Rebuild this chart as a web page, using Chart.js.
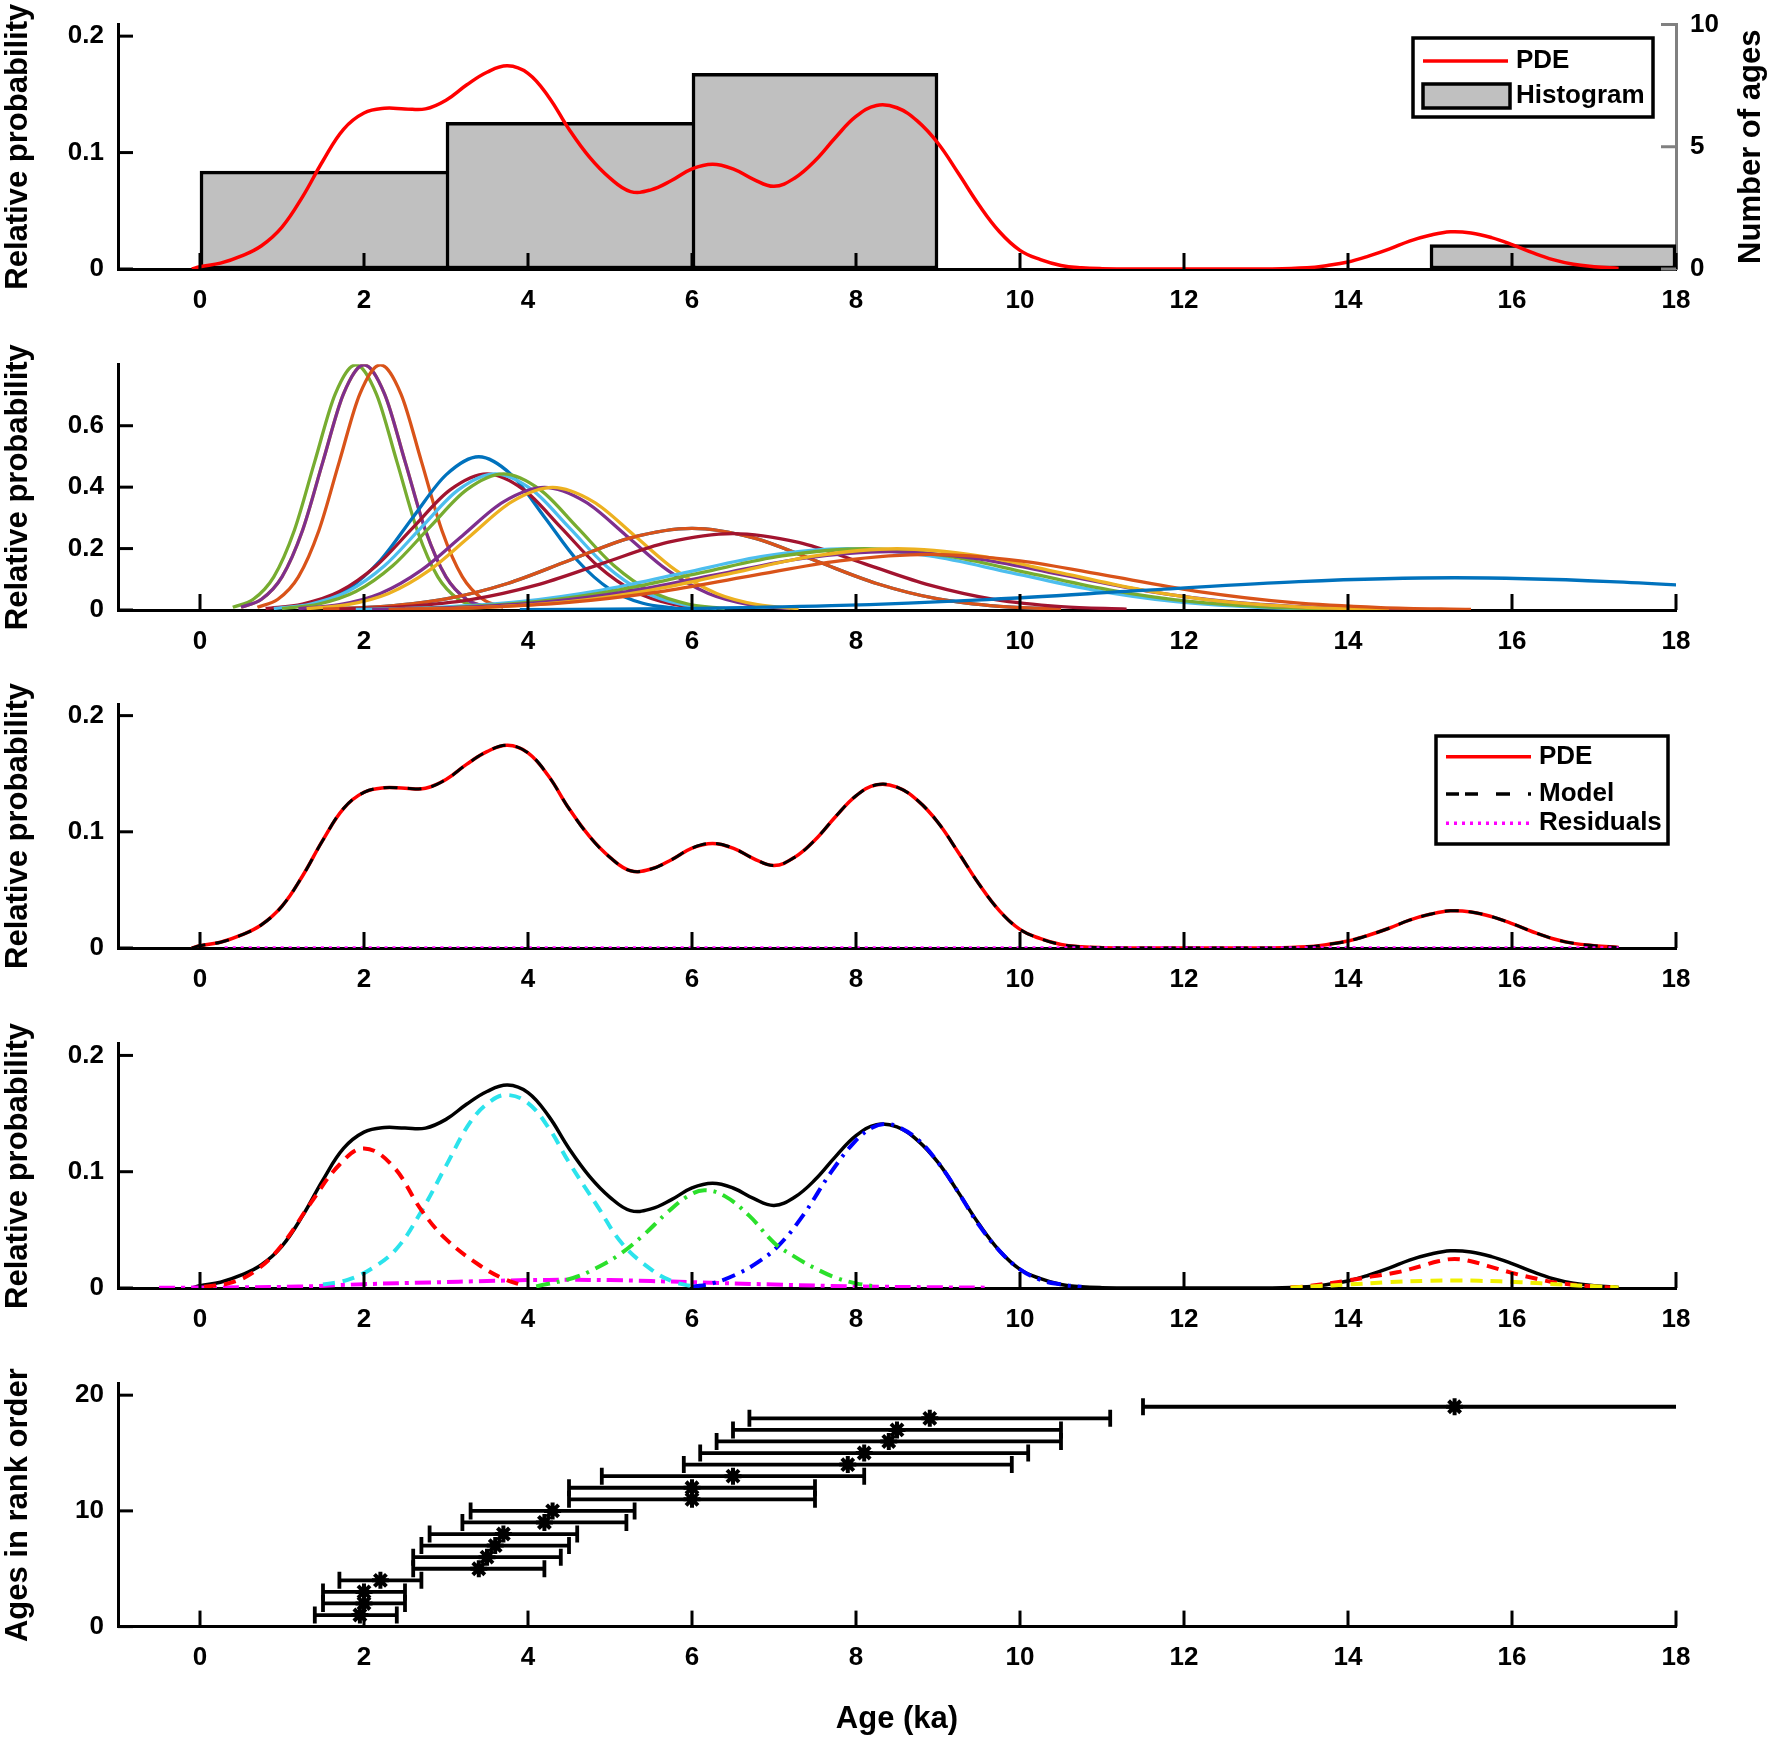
<!DOCTYPE html>
<html>
<head>
<meta charset="utf-8">
<title>Age distribution</title>
<script src="https://cdn.jsdelivr.net/npm/chart.js@4.4.1/dist/chart.umd.min.js"></script>
<style>
html, body { margin: 0; padding: 0; background: #fff; }
body { position: relative; width: 1770px; height: 1744px; overflow: hidden; }
canvas { position: absolute; left: 0; }
</style>
</head>
<body>
<canvas id="histChart"></canvas>
<canvas id="indChart"></canvas>
<canvas id="modelChart"></canvas>
<canvas id="compChart"></canvas>
<canvas id="rankChart"></canvas>
<script>
// tick labels
var xTicks = [0, 2, 4, 6, 8, 10, 12, 14, 16, 18];
var probTicks = [0, 0.1, 0.2];
var indTicks = [0, 0.2, 0.4, 0.6];
var countTicks = [0, 5, 10];
var rankTicks = [0, 10, 20];

// histogram (3 ka bins)
var binCenters = [1.5, 4.5, 7.5, 10.5, 13.5, 16.5];
var binCounts = [4, 6, 8, 0, 0, 1];

// probability density estimate (also the model curve)
var pdeX = [-0.1, 0, 0.25, 0.5, 0.75, 1, 1.25, 1.5, 1.75, 2,
  2.25, 2.5, 2.75, 3, 3.25, 3.5, 3.75, 4, 4.25, 4.5, 4.75, 5, 5.25, 5.5, 5.75, 6,
  6.25, 6.5, 6.75, 7, 7.25, 7.5, 7.75, 8, 8.25, 8.5, 8.75, 9, 9.25, 9.5, 9.75, 10,
  10.25, 10.5, 10.75, 11, 11.5, 12, 12.5, 13, 13.5,
  13.75, 14, 14.25, 14.5, 14.75, 15, 15.25, 15.5, 15.75, 16, 16.25, 16.5, 16.75, 17, 17.3];
var pdeY = [0, 0.002, 0.005, 0.011, 0.02, 0.036, 0.062, 0.093, 0.12, 0.134,
  0.138, 0.1375, 0.1375, 0.145, 0.158, 0.169, 0.1745, 0.168, 0.148, 0.12, 0.096, 0.078, 0.0665, 0.068, 0.076, 0.086,
  0.09, 0.086, 0.077, 0.071, 0.078, 0.093, 0.113, 0.131, 0.1405, 0.1385, 0.127, 0.108, 0.082, 0.055, 0.032, 0.016,
  0.008, 0.003, 0.001, 0.0003, 0, 0, 0, 0, 0.001,
  0.003, 0.006, 0.011, 0.017, 0.024, 0.029, 0.032, 0.031, 0.027, 0.021, 0.014, 0.008, 0.004, 0.002, 0.0005];
var residX = [0.3, 4, 8, 12, 17.3];
var residY = [0, 0, 0, 0, 0];

// individual age curves: heights for each uncertainty, positions per age
var indY05 = [0.009, 0.035, 0.108, 0.259, 0.484, 0.704, 0.798, 0.704, 0.484, 0.259, 0.108, 0.035, 0.009];
var indY08 = [0.0055, 0.022, 0.0675, 0.162, 0.303, 0.44, 0.499, 0.44, 0.303, 0.162, 0.0675, 0.022, 0.0055];
var indY09 = [0.0049, 0.0195, 0.06, 0.144, 0.269, 0.391, 0.443, 0.391, 0.269, 0.144, 0.06, 0.0195, 0.0049];
var indY10 = [0.0044, 0.0175, 0.054, 0.13, 0.242, 0.352, 0.399, 0.352, 0.242, 0.13, 0.054, 0.0175, 0.0044];
var indY15 = [0.003, 0.0117, 0.036, 0.0864, 0.161, 0.235, 0.266, 0.235, 0.161, 0.0864, 0.036, 0.0117, 0.003];
var indY16 = [0.0028, 0.011, 0.0337, 0.081, 0.151, 0.22, 0.249, 0.22, 0.151, 0.081, 0.0337, 0.011, 0.0028];
var indY20 = [0.0022, 0.0088, 0.027, 0.0648, 0.121, 0.176, 0.1995, 0.176, 0.121, 0.0648, 0.027, 0.0088, 0.0022];
var indY21 = [0.0021, 0.0083, 0.0257, 0.0617, 0.115, 0.168, 0.19, 0.168, 0.115, 0.0617, 0.0257, 0.0083, 0.0021];
var indY22 = [0.002, 0.008, 0.0245, 0.0588, 0.11, 0.16, 0.181, 0.16, 0.11, 0.0588, 0.0245, 0.008, 0.002];
var indY38 = [0.0012, 0.0046, 0.0142, 0.0341, 0.0637, 0.0927, 0.105, 0.0927, 0.0637, 0.0341];

var ind01X = [0.4, 0.65, 0.9, 1.15, 1.4, 1.65, 1.9, 2.15, 2.4, 2.65, 2.9, 3.15, 3.4];
var ind02X = [0.5, 0.75, 1.0, 1.25, 1.5, 1.75, 2.0, 2.25, 2.5, 2.75, 3.0, 3.25, 3.5];
var ind03X = [0.5, 0.75, 1.0, 1.25, 1.5, 1.75, 2.0, 2.25, 2.5, 2.75, 3.0, 3.25, 3.5];
var ind04X = [0.7, 0.95, 1.2, 1.45, 1.7, 1.95, 2.2, 2.45, 2.7, 2.95, 3.2, 3.45, 3.7];
var ind05X = [1.0, 1.4, 1.8, 2.2, 2.6, 3.0, 3.4, 3.8, 4.2, 4.6, 5.0, 5.4, 5.8];
var ind06X = [0.8, 1.25, 1.7, 2.15, 2.6, 3.05, 3.5, 3.95, 4.4, 4.85, 5.3, 5.75, 6.2];
var ind07X = [0.9, 1.35, 1.8, 2.25, 2.7, 3.15, 3.6, 4.05, 4.5, 4.95, 5.4, 5.85, 6.3];
var ind08X = [1.0, 1.45, 1.9, 2.35, 2.8, 3.25, 3.7, 4.15, 4.6, 5.05, 5.5, 5.95, 6.4];
var ind09X = [1.2, 1.7, 2.2, 2.7, 3.2, 3.7, 4.2, 4.7, 5.2, 5.7, 6.2, 6.7, 7.2];
var ind10X = [1.3, 1.8, 2.3, 2.8, 3.3, 3.8, 4.3, 4.8, 5.3, 5.8, 6.3, 6.8, 7.3];
var ind11X = [1.5, 2.25, 3.0, 3.75, 4.5, 5.25, 6.0, 6.75, 7.5, 8.25, 9.0, 9.75, 10.5];
var ind12X = [1.5, 2.25, 3.0, 3.75, 4.5, 5.25, 6.0, 6.75, 7.5, 8.25, 9.0, 9.75, 10.5];
var ind13X = [1.7, 2.5, 3.3, 4.1, 4.9, 5.7, 6.5, 7.3, 8.1, 8.9, 9.7, 10.5, 11.3];
var ind14X = [1.9, 2.9, 3.9, 4.9, 5.9, 6.9, 7.9, 8.9, 9.9, 10.9, 11.9, 12.9, 13.9];
var ind15X = [2.1, 3.1, 4.1, 5.1, 6.1, 7.1, 8.1, 9.1, 10.1, 11.1, 12.1, 13.1, 14.1];
var ind16X = [2.1, 3.15, 4.2, 5.25, 6.3, 7.35, 8.4, 9.45, 10.5, 11.55, 12.6, 13.65, 14.7];
var ind17X = [2.5, 3.5, 4.5, 5.5, 6.5, 7.5, 8.5, 9.5, 10.5, 11.5, 12.5, 13.5, 14.5];
var ind18X = [2.3, 3.4, 4.5, 5.6, 6.7, 7.8, 8.9, 10.0, 11.1, 12.2, 13.3, 14.4, 15.5];
var ind19X = [3.9, 5.8, 7.7, 9.6, 11.5, 13.4, 15.3, 17.2, 19.1, 21.0];

// mixture components
var compR1X = [0.05, 0.4, 0.7, 1.0, 1.35, 1.7, 2.0, 2.35, 2.7, 3.0, 3.4, 3.7, 3.95];
var compR1Y = [0.001, 0.005, 0.016, 0.037, 0.073, 0.106, 0.12, 0.105, 0.067, 0.042, 0.02, 0.008, 0.002];
var compCyX = [1.5, 1.8, 2.1, 2.4, 2.7, 3.0, 3.3, 3.55, 3.75, 4.0, 4.25, 4.5, 4.85, 5.15, 5.5, 5.75, 6.0];
var compCyY = [0.003, 0.007, 0.017, 0.034, 0.066, 0.105, 0.143, 0.161, 0.166, 0.159, 0.138, 0.108, 0.07, 0.038, 0.016, 0.006, 0.0015];
var compGrX = [4.1, 4.55, 4.8, 5.1, 5.4, 5.7, 5.95, 6.15, 6.4, 6.7, 7.0, 7.25, 7.5, 7.75, 8.0, 8.25];
var compGrY = [0.0014, 0.0086, 0.016, 0.028, 0.045, 0.065, 0.079, 0.084, 0.079, 0.062, 0.039, 0.027, 0.017, 0.009, 0.004, 0.0012];
var compBlX = [6.0, 6.25, 6.55, 6.8, 7.05, 7.35, 7.7, 8.0, 8.2, 8.35, 8.5, 8.75, 9.0, 9.25, 9.5, 9.75, 10.0, 10.25, 10.5, 10.75];
var compBlY = [0.001, 0.004, 0.012, 0.022, 0.036, 0.062, 0.1, 0.127, 0.138, 0.141, 0.139, 0.128, 0.108, 0.082, 0.054, 0.032, 0.016, 0.007, 0.003, 0.001];
var compMgX = [-0.5, 0.5, 1.2, 2.0, 2.8, 3.5, 4.0, 4.5, 5.0, 5.5, 6.0, 7.0, 8.0, 9.0, 9.6];
var compMgY = [0.0002, 0.0006, 0.0012, 0.0033, 0.0048, 0.006, 0.0068, 0.007, 0.0068, 0.006, 0.005, 0.003, 0.0014, 0.0006, 0.0003];
var compR2X = [13.3, 13.5, 14.0, 14.3, 14.6, 14.9, 15.1, 15.3, 15.5, 15.7, 16.0, 16.3, 16.55, 16.95, 17.25];
var compR2Y = [0.0006, 0.0015, 0.0065, 0.01, 0.0135, 0.019, 0.023, 0.025, 0.023, 0.019, 0.013, 0.008, 0.0045, 0.0015, 0.0003];
var compYlX = [13.3, 13.6, 14.0, 14.5, 15.0, 15.3, 15.6, 16.1, 16.6, 17.0, 17.3];
var compYlY = [0.0004, 0.0015, 0.003, 0.005, 0.0062, 0.0065, 0.0062, 0.005, 0.003, 0.0015, 0.0004];

// ages in rank order with error bars
var rankRow = [1, 2, 3, 4, 5, 6, 7, 8, 9, 10, 11, 12, 13, 14, 15, 16, 17, 18, 19];
var rankAge = [1.95, 2.0, 2.0, 2.2, 3.4, 3.5, 3.6, 3.7, 4.2, 4.3, 6.0, 6.0, 6.5, 7.9, 8.1, 8.4, 8.5, 8.9, 15.3];
var rankLo = [1.4, 1.5, 1.5, 1.7, 2.6, 2.6, 2.7, 2.8, 3.2, 3.3, 4.5, 4.5, 4.9, 5.9, 6.1, 6.3, 6.5, 6.7, 11.5];
var rankHi = [2.4, 2.5, 2.5, 2.7, 4.2, 4.4, 4.5, 4.6, 5.2, 5.3, 7.5, 7.5, 8.1, 9.9, 10.1, 10.5, 10.5, 11.1, 19.1];

var cBlue = '#0072BD', cOrange = '#D95319', cYellow = '#EDB120', cPurple = '#7E2F8E',
    cGreen = '#77AC30', cLtBlue = '#4DBEEE', cDkRed = '#A2142F';

var indCurves = [
  [ind03X, indY05, cYellow], [ind12X, indY15, cBlue],
  [ind01X, indY05, cGreen], [ind02X, indY05, cPurple], [ind04X, indY05, cOrange],
  [ind05X, indY08, cBlue], [ind06X, indY09, cDkRed], [ind07X, indY09, cLtBlue], [ind08X, indY09, cGreen],
  [ind09X, indY10, cPurple], [ind10X, indY10, cYellow], [ind11X, indY15, cOrange], [ind13X, indY16, cDkRed],
  [ind14X, indY20, cLtBlue], [ind15X, indY20, cGreen], [ind16X, indY21, cPurple], [ind17X, indY20, cYellow],
  [ind18X, indY22, cOrange], [ind19X, indY38, cBlue]
];

var FONT = '"Liberation Sans", Arial, Helvetica, sans-serif';
Chart.defaults.font.family = FONT;
Chart.defaults.font.size = 26;
Chart.defaults.font.weight = 'bold';
Chart.defaults.color = '#000';

var W = 1770, AXIS_W = 118, RIGHT_W = 94;
var SMOOTH = {cubicInterpolationMode: 'default', tension: 0.4};

function pts(xs, ys) {
  return xs.map(function (x, i) { return {x: x, y: ys[i]}; });
}

function place(id, top, height) {
  var c = document.getElementById(id);
  c.width = W; c.height = height;
  c.style.top = top + 'px';
  c.style.width = W + 'px'; c.style.height = height + 'px';
  return c;
}

// MATLAB-like ticks pointing into the plot
var innerTicks = {
  id: 'innerTicks',
  afterDatasetsDraw: function (chart) {
    var ctx = chart.ctx, a = chart.chartArea;
    ctx.save();
    ctx.lineWidth = 3;
    Object.keys(chart.scales).forEach(function (k) {
      var s = chart.scales[k];
      ctx.strokeStyle = s.options.border.color;
      s.ticks.forEach(function (t) {
        var p = s.getPixelForValue(t.value);
        ctx.beginPath();
        if (s.axis === 'x') { ctx.moveTo(p, a.bottom); ctx.lineTo(p, a.bottom - 16); }
        else if (s.position === 'left') { ctx.moveTo(a.left, p); ctx.lineTo(a.left + 15, p); }
        else { ctx.moveTo(a.right, p); ctx.lineTo(a.right - 15, p); }
        ctx.stroke();
      });
    });
    ctx.restore();
  }
};

function sideTitles(left, right) {
  return {
    id: 'sideTitles',
    afterDraw: function (chart) {
      var ctx = chart.ctx, a = chart.chartArea, cy = (a.top + a.bottom) / 2;
      ctx.save();
      ctx.font = 'bold 31px ' + FONT;
      ctx.fillStyle = '#000'; ctx.textAlign = 'center'; ctx.textBaseline = 'middle';
      [[left, 18], [right, 1751]].forEach(function (t) {
        if (!t[0]) return;
        ctx.save(); ctx.translate(t[1], cy); ctx.rotate(-Math.PI / 2);
        ctx.fillText(t[0], 0, 0); ctx.restore();
      });
      ctx.restore();
    }
  };
}

function boxLegend(box, rows) {
  return {
    id: 'boxLegend',
    afterDraw: function (chart) {
      var ctx = chart.ctx, x0 = box.x + 10, x1 = box.x + 95;
      ctx.save();
      ctx.fillStyle = '#fff'; ctx.fillRect(box.x, box.y, box.w, box.h);
      ctx.lineWidth = 3.5; ctx.strokeStyle = '#000'; ctx.setLineDash([]);
      ctx.strokeRect(box.x, box.y, box.w, box.h);
      ctx.font = 'bold 26px ' + FONT; ctx.textBaseline = 'middle'; ctx.textAlign = 'left';
      rows.forEach(function (r) {
        if (r.fill) {
          ctx.fillStyle = r.fill; ctx.fillRect(x0, r.y - 12, x1 - x0 + 2, 24);
          ctx.setLineDash([]); ctx.lineWidth = 3.5; ctx.strokeStyle = '#000';
          ctx.strokeRect(x0, r.y - 12, x1 - x0 + 2, 24);
        } else {
          ctx.beginPath(); ctx.lineWidth = r.width || 3.5; ctx.strokeStyle = r.color;
          ctx.setLineDash(r.dash || []);
          ctx.moveTo(x0, r.y); ctx.lineTo(x1, r.y); ctx.stroke();
        }
        ctx.setLineDash([]); ctx.fillStyle = '#000';
        ctx.fillText(r.label, box.x + 103, r.y);
      });
      ctx.restore();
    }
  };
}

function xAxis(h, title) {
  return {
    type: 'linear', min: -1, max: 18, offset: false,
    afterBuildTicks: function (s) { s.ticks = xTicks.map(function (v) { return {value: v}; }); },
    afterFit: function (s) { s.height = h; },
    grid: {display: false, drawTicks: false},
    border: {display: true, color: '#000', width: 3},
    ticks: {padding: 16, autoSkip: false, maxRotation: 0, callback: function (v) { return String(v); }},
    title: title ? {display: true, text: title, font: {size: 31, weight: 'bold'}, padding: {top: 0, bottom: 0}}
                 : {display: false}
  };
}

function yAxis(max, tickVals, pos, color) {
  return {
    type: 'linear', position: pos || 'left', min: 0, max: max,
    afterBuildTicks: function (s) { s.ticks = tickVals.map(function (v) { return {value: v}; }); },
    afterFit: function (s) { s.width = pos === 'right' ? RIGHT_W : AXIS_W; },
    grid: {display: false, drawTicks: false},
    border: {display: true, color: color || '#000', width: 3},
    ticks: {padding: 14, autoSkip: false, callback: function (v) { return String(v); }}
  };
}

function baseOptions(padTop, rightAxis, scales) {
  return {
    responsive: false, animation: false, events: [],
    layout: {padding: {left: 0, right: rightAxis ? 0 : RIGHT_W, top: padTop, bottom: 0}},
    elements: {point: {radius: 0}, line: {cubicInterpolationMode: 'monotone', borderWidth: 3}},
    plugins: {legend: {display: false}, tooltip: {enabled: false}},
    scales: scales
  };
}

function line(xs, ys, color, width, dash, order) {
  return Object.assign({data: pts(xs, ys), borderColor: color, borderWidth: width,
                        borderDash: dash || [], order: order}, SMOOTH);
}

// 1. PDE and histogram (canvas starts above the page so the plot top sits at 24.5 px)
new Chart(place('histChart', -6, 325), {
  type: 'line',
  data: {datasets: [
    Object.assign(line(pdeX, pdeY, '#FF0000', 3.5, null, 0), {yAxisID: 'y'}),
    {type: 'bar', data: pts(binCenters, binCounts), yAxisID: 'y2', order: 1,
     backgroundColor: '#C0C0C0', borderColor: '#000', borderSkipped: false,
     borderWidth: function (c) {
       var open = binCounts[c.dataIndex + 1] > 0;
       return {top: 3.5, left: 3.5, bottom: 3.5, right: open ? 0 : 3.5};
     },
     barThickness: 'flex', categoryPercentage: 1, barPercentage: 1}
  ]},
  options: baseOptions(30.5, true, {
    x: xAxis(50), y: yAxis(0.21, probTicks), y2: yAxis(10, countTicks, 'right', '#808080')
  }),
  plugins: [innerTicks, sideTitles('Relative probability', 'Number of ages'),
    boxLegend({x: 1413, y: 44, w: 240, h: 79}, [
      {label: 'PDE', y: 67, color: '#FF0000'},
      {label: 'Histogram', y: 102, fill: '#C0C0C0'}
    ])]
});

// 2. individual age curves
new Chart(place('indChart', 304, 356), {
  type: 'line',
  data: {datasets: indCurves.map(function (c, i) {
    return {data: pts(c[0], c[1]), borderColor: c[2], borderWidth: 3.3, order: -i};
  })},
  options: baseOptions(60.3, false, {x: xAxis(50), y: yAxis(0.8, indTicks)}),
  plugins: [innerTicks, sideTitles('Relative probability')]
});

// 3. PDE, model and residuals
new Chart(place('modelChart', 644, 354), {
  type: 'line',
  data: {datasets: [
    line(pdeX, pdeY, '#FF0000', 3.5, null, 2),
    line(pdeX, pdeY, '#000', 3, [14, 10], 1),
    line(residX, residY, '#FF00FF', 3.5, [3, 5], 0)
  ]},
  options: baseOptions(60, false, {x: xAxis(50), y: yAxis(0.21, probTicks)}),
  plugins: [innerTicks, sideTitles('Relative probability'),
    boxLegend({x: 1436, y: 92, w: 232, h: 108}, [
      {label: 'PDE', y: 112.7, color: '#FF0000'},
      {label: 'Model', y: 150, color: '#000', dash: [13, 6, 13, 18, 14, 18, 3, 100]},
      {label: 'Residuals', y: 179.3, color: '#FF00FF', dash: [3, 5]}
    ])]
});

// 4. model and its components
new Chart(place('compChart', 984, 354), {
  type: 'line',
  data: {datasets: [
    line(pdeX, pdeY, '#000', 3.5, null, 10),
    line(compMgX, compMgY, '#FF00FF', 4, [16, 6, 4, 6], 7),
    line(compR1X, compR1Y, '#FF0000', 4, [12, 8], 1),
    line(compCyX, compCyY, '#2CE3EC', 4, [12, 8], 2),
    line(compGrX, compGrY, '#2BE02B', 4, [14, 7, 3, 7], 3),
    line(compBlX, compBlY, '#0000FF', 4, [14, 7, 3, 7], 4),
    line(compYlX, compYlY, '#F0F000', 4, [12, 8], 5),
    line(compR2X, compR2Y, '#FF0000', 4, [12, 8], 6)
  ]},
  options: baseOptions(59.8, false, {x: xAxis(50), y: yAxis(0.21, probTicks)}),
  plugins: [innerTicks, sideTitles('Relative probability')]
});

// 5. ages in rank order
var rankSets = rankRow.map(function (r, i) {
  return {data: [{x: rankLo[i], y: r}, {x: rankHi[i], y: r}], borderColor: '#000', borderWidth: 3.8,
          pointStyle: 'line', pointRotation: 90, pointRadius: 8.5, pointBorderWidth: 3.8,
          pointBorderColor: '#000', order: 1};
});
rankSets.unshift({data: pts(rankAge, rankRow), showLine: false, pointStyle: 'star', pointRadius: 8.5,
                  pointBorderWidth: 4, pointBorderColor: '#000', borderColor: '#000', order: 0});

new Chart(place('rankChart', 1323, 415), {
  type: 'line',
  data: {datasets: rankSets},
  options: baseOptions(60.6, false, {x: xAxis(111.4, 'Age (ka)'), y: yAxis(21, rankTicks)}),
  plugins: [innerTicks, sideTitles('Ages in rank order')]
});
</script>
</body>
</html>
